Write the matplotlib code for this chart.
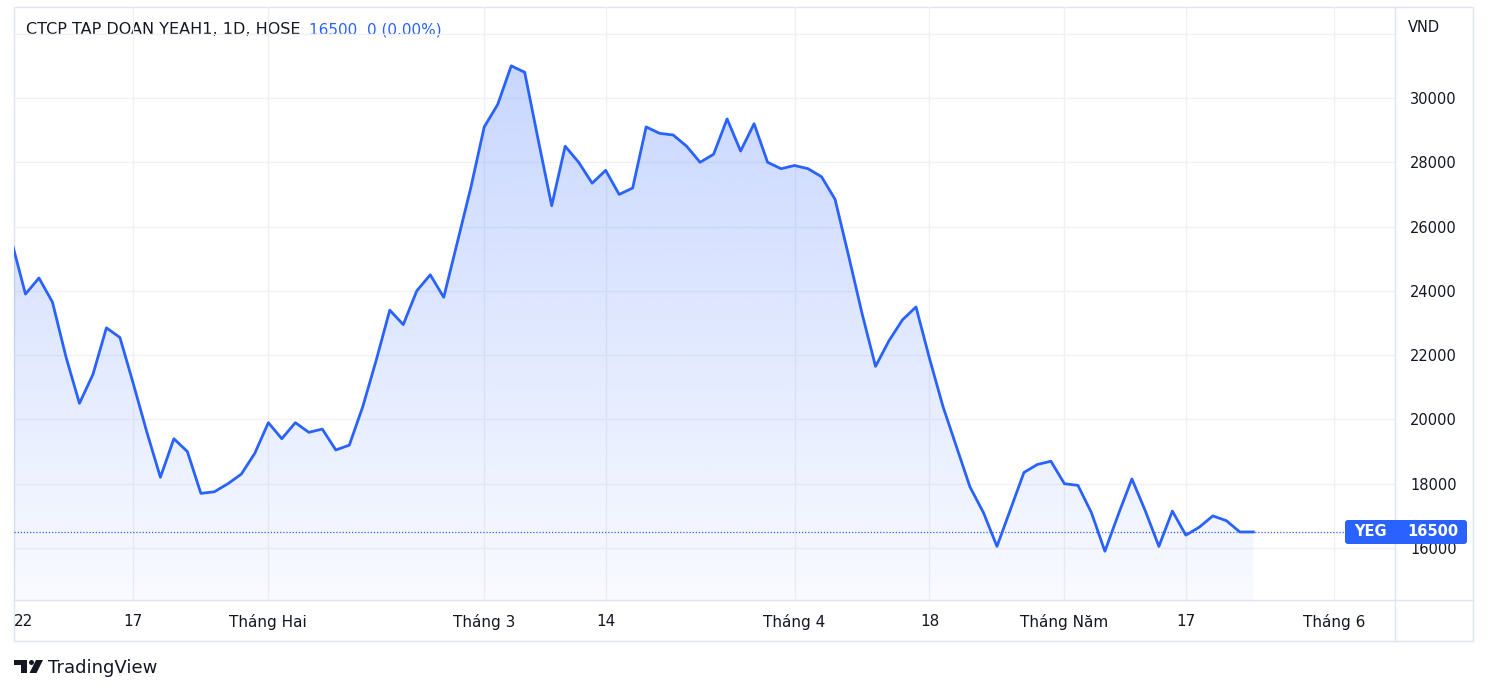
import matplotlib
matplotlib.use("Agg")
import matplotlib.pyplot as plt
import numpy as np
from matplotlib.patches import Rectangle, FancyBboxPatch, Polygon, Circle

W, H = 1488, 695

# daily closes, YEG (HOSE), early Jan -> late May 2022
close = [25500, 23900, 24400, 23650, 21950, 20500, 21400, 22850, 22550, 21100,
         19600, 18200, 19400, 19000, 17700, 17750, 18000, 18300, 18950, 19900,
         19400, 19900, 19600, 19700, 19050, 19200, 20400, 21850, 23400, 22950,
         24000, 24500, 23800, 25500, 27200, 29100, 29800, 31000, 30800, 28700,
         26650, 28500, 28000, 27350, 27750, 27000, 27200, 29100, 28900, 28850,
         28500, 28000, 28250, 29350, 28350, 29200, 28000, 27800, 27900, 27800,
         27550, 26850, 25100, 23300, 21650, 22450, 23100, 23500, 21900, 20400,
         19150, 17900, 17100, 16050, 17200, 18350, 18600, 18700, 18000, 17950,
         17100, 15900, 17050, 18150, 17150, 16050, 17150, 16400, 16650, 17000,
         16850, 16500, 16500]
last_price = 16500

tick_pos = [9, 19, 35, 44, 58, 68, 78, 87, 98]
tick_labels = ["17", "Tháng Hai", "Tháng 3", "14", "Tháng 4", "18",
               "Tháng Năm", "17", "Tháng 6"]
price_ticks = list(range(16000, 32001, 2000))

BLUE = "#2962ff"
TXT = "#131722"
GRID = "#f0f1f5"
BORDER = "#e0e3eb"

fig = plt.figure(figsize=(W / 100, H / 100), dpi=100)
fig.patch.set_facecolor("white")

# background overlay in pixel coordinates
bg = fig.add_axes([0, 0, 1, 1], zorder=0)
bg.set_xlim(0, W)
bg.set_ylim(H, 0)
bg.axis("off")

ax = fig.add_axes([14 / W, (H - 600) / H, (1395 - 14) / W, 593 / H], zorder=1)
ax.patch.set_alpha(0)
x = np.arange(len(close))
ymin, ymax = 14383, 32831
ax.set_xlim(0.15, 102.5)
ax.set_ylim(ymin, ymax)

# gradient area under the line
grad = np.zeros((256, 1, 4))
grad[..., 0] = 41 / 255
grad[..., 1] = 98 / 255
grad[..., 2] = 1.0
grad[:, 0, 3] = np.linspace(0.03, 0.28, 256)
poly = ax.fill_between(x, close, ymin, color="none", lw=0)
im = ax.imshow(grad, extent=[x[0], x[-1], ymin, ymax], origin="lower",
               aspect="auto", zorder=1)
im.set_clip_path(poly.get_paths()[0], transform=ax.transData)

ax.axhline(last_price, color=BLUE, lw=0.9, ls=(0, (1, 1.5)), zorder=2)
ax.plot(x, close, color=BLUE, lw=2.0, zorder=3)

ax.set_yticks(price_ticks)
ax.set_yticklabels([str(v) if v < 32000 else "" for v in price_ticks])
ax.yaxis.tick_right()
ax.set_xticks(tick_pos)
ax.set_xticklabels(tick_labels)
ax.tick_params(axis="y", length=0, pad=11, labelsize=10.5, labelcolor=TXT)
ax.tick_params(axis="x", length=0, pad=10, labelsize=11, labelcolor=TXT)
ax.grid(color=GRID, lw=1)
ax.set_axisbelow(True)
for s in ax.spines.values():
    s.set_visible(False)

# frame
bg.add_patch(Rectangle((14, 7), 1459, 634, fill=False, ec=BORDER, lw=1))
bg.plot([14, 1473], [600, 600], color=BORDER, lw=1)
bg.plot([1395, 1395], [7, 641], color=BORDER, lw=1)

# header
bg.text(26, 30, "CTCP TAP DOAN YEAH1, 1D, HOSE", va="center", fontsize=11.5, color=TXT)
bg.text(309, 30, "16500  0 (0.00%)", va="center", fontsize=11, color=BLUE)
bg.text(1408, 27, "VND", va="center", fontsize=10.5, color=TXT)

# year label, shown cut at the left edge of the chart
bg.text(14, 621, "22", ha="left", va="center", fontsize=11, color=TXT)

# TradingView logo
bg.add_patch(Polygon([(14, 660), (27, 660), (27, 673), (21, 673), (21, 665), (14, 665)],
                     closed=True, fc=TXT, ec="none"))
bg.add_patch(Circle((31.5, 662.5), 2.5, fc=TXT, ec="none"))
bg.add_patch(Polygon([(36, 660), (43, 660), (36.5, 673), (29.5, 673)],
                     closed=True, fc=TXT, ec="none"))
bg.text(48, 668, "TradingView", va="center", fontsize=13, color=TXT)

# last price label on the price scale
fg = fig.add_axes([0, 0, 1, 1], zorder=2)
fg.set_xlim(0, W)
fg.set_ylim(H, 0)
fg.axis("off")
fg.patch.set_alpha(0)
fg.add_patch(FancyBboxPatch((1345, 520), 122, 24,
                            boxstyle="round,pad=0,rounding_size=3",
                            fc=BLUE, ec="none"))
fg.text(1354, 532, "YEG", va="center", fontsize=10.5, color="white", fontweight="bold")
fg.text(1458, 532, "16500", va="center", ha="right", fontsize=10.5, color="white",
        fontweight="bold")

fig.savefig("out.png", dpi=100)
